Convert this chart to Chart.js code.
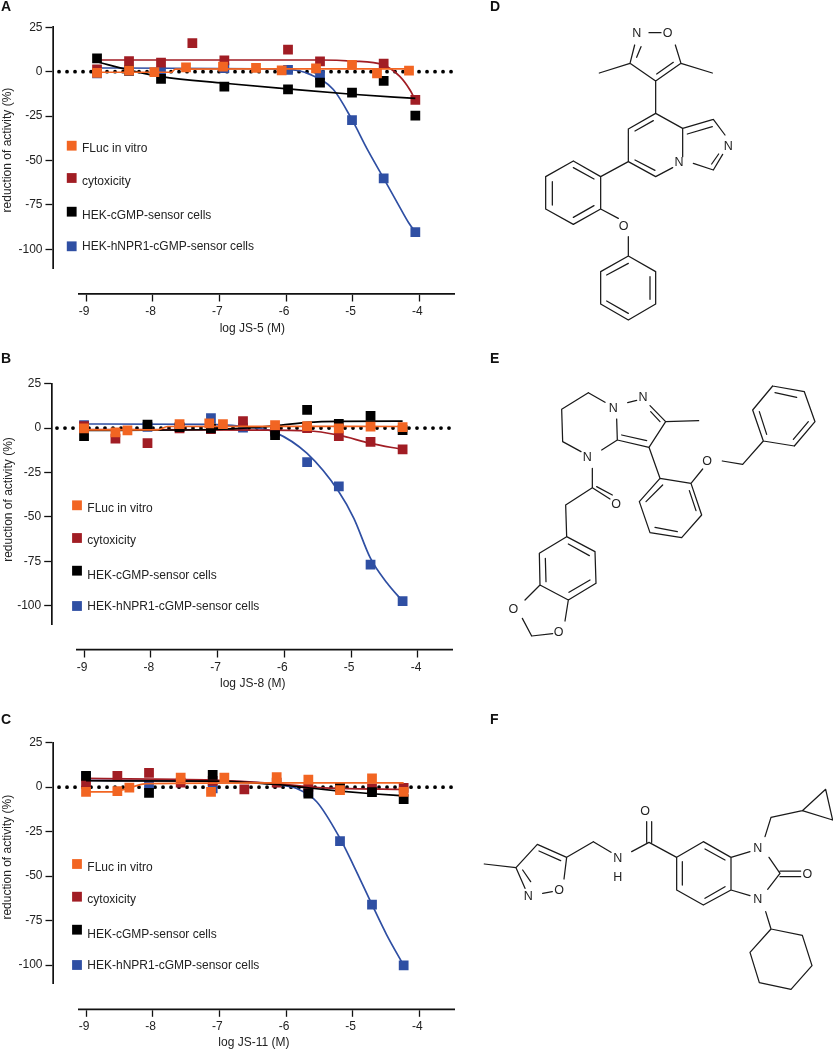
<!DOCTYPE html>
<html><head><meta charset="utf-8">
<script src="https://cdn.jsdelivr.net/npm/chart.js@4"></script>
<style>
html,body{margin:0;padding:0;background:#fff;width:833px;height:1050px;overflow:hidden}
canvas{position:absolute;display:block}
.pl{position:absolute;font:bold 14px "Liberation Sans",Arial,sans-serif;color:#111;line-height:14px}
</style></head><body>
<canvas id="a" style="left:0;top:0"></canvas>
<canvas id="b" style="left:0;top:345px"></canvas>
<canvas id="c" style="left:0;top:705px"></canvas>
<canvas id="d" style="left:480px;top:0"></canvas>
<canvas id="e" style="left:480px;top:345px"></canvas>
<canvas id="f" style="left:470px;top:700px"></canvas>
<div class="pl" style="left:1px;top:-1px">A</div>
<div class="pl" style="left:1px;top:351px">B</div>
<div class="pl" style="left:1px;top:712px">C</div>
<div class="pl" style="left:490px;top:-1px">D</div>
<div class="pl" style="left:490px;top:351px">E</div>
<div class="pl" style="left:490px;top:712px">F</div>
<script>
// ---------- shared labels ----------
const seriesNames = ['FLuc in vitro','cytoxicity','HEK-cGMP-sensor cells','HEK-hNPR1-cGMP-sensor cells'];
const seriesColors = ['#F26522','#A11D24','#000000','#2F4FA3'];
const yTickValues = [25,0,-25,-50,-75,-100];
const xTickValues = [-9,-8,-7,-6,-5,-4];

// ---------- panel A: log JS-5 ----------
const aFlucX = [-8.835,-8.355,-7.975,-7.5,-6.945,-6.45,-6.065,-5.55,-5.01,-4.635,-4.155];
const aFlucY = [-0.6,0.6,-0.2,2.4,2.8,2.1,0.7,1.9,3.9,-0.9,0.6];
const aCytoX = [-8.835,-8.355,-7.875,-7.405,-6.925,-5.97,-5.49,-4.535,-4.06];
const aCytoY = [1.3,6,5.1,16.1,6.4,12.5,5.8,4.5,-15.9];
const aHekX = [-8.835,-8.355,-7.875,-6.925,-5.97,-5.49,-5.01,-4.535,-4.06];
const aHekY = [7.5,0.6,-4.1,-8.4,-9.9,-6.2,-11.8,-5.2,-24.7];
const aNprX = [-8.835,-8.355,-7.875,-6.925,-5.97,-5.49,-5.01,-4.535,-4.06];
const aNprY = [-1,0.5,0,2,1,-1.9,-27.2,-60,-90.3];
const aFlucFitX = [-8.835,-7.72,-7.66,-6,-4.155];
const aFlucFitY = [-0.3,-0.3,1.5,1.6,1.6];
const aCytoFitX = [-8.835,-6,-5.49,-5.01,-4.535,-4.29,-4.14,-4.06];
const aCytoFitY = [6.6,6.6,6.6,6.0,3.7,-2.8,-10.3,-15.9];
const aHekFitX = [-8.835,-8.355,-7.875,-6.925,-5.97,-5.01,-4.06];
const aHekFitY = [5.6,0.9,-2.8,-6.5,-9.7,-12.7,-15];
const aNprFitX = [-8.835,-5.97,-5.64,-5.29,-5.01,-4.79,-4.535,-4.29,-4.16,-4.06];
const aNprFitY = [2.1,1.3,-1.5,-10,-27,-43,-60,-76.5,-85,-90.3];

// ---------- panel B: log JS-8 ----------
const bFlucX = [-9,-8.53,-8.35,-7.57,-7.125,-6.92,-6.14,-5.66,-5.185,-4.71,-4.23];
const bFlucY = [-0.2,-2.4,-1.3,2.3,2.6,2.3,1.7,1.1,-0.2,0.8,0.6];
const bCytoX = [-9,-8.53,-8.05,-7.57,-7.1,-6.62,-6.14,-5.66,-5.185,-4.71,-4.23];
const bCytoY = [1.1,-6,-8.4,-0.2,-0.6,3.9,-1,0,-4.5,-7.7,-12];
const bHekX = [-9,-8.05,-7.57,-7.1,-6.14,-5.66,-5.185,-4.71,-4.23];
const bHekY = [-4.5,1.9,0.5,-0.2,-3.9,10.3,2.4,6.9,-1.1];
const bNprX = [-9,-8.05,-7.1,-6.62,-6.14,-5.66,-5.185,-4.71,-4.23];
const bNprY = [1.7,0.7,5.6,0.2,-2,-19.1,-32.8,-76.9,-97.5];
const bFlucFitX = [-9,-7.9,-7.75,-6,-4.23];
const bFlucFitY = [-1,-1,0.9,1,0.9];
const bCytoFitX = [-9,-6.4,-5.66,-5.185,-4.71,-4.23];
const bCytoFitY = [-0.8,-1.1,-1.5,-4,-8.6,-12];
const bHekFitX = [-9,-7.1,-6.14,-5.66,-5.185,-4.23];
const bHekFitY = [-1.3,-0.8,1.3,3.2,3.8,3.9];
const bNprFitX = [-9,-7.1,-6.46,-6.14,-5.66,-5.185,-4.96,-4.71,-4.46,-4.23];
const bNprFitY = [2.3,2.1,0.2,-2.4,-14.3,-35.8,-50.8,-73.4,-87.4,-97.5];

// ---------- panel C: log JS-11 ----------
const cFlucX = [-9,-8.53,-8.35,-7.58,-7.125,-6.925,-6.14,-5.665,-5.19,-4.71,-4.235];
const cFlucY = [-2.6,-2.2,-0.2,5.4,-2.6,5.4,5.6,4.3,-1.7,4.9,-2.6];
const cCytoX = [-9,-8.53,-8.055,-7.58,-7.1,-6.625,-6.14,-5.665,-5.19,-4.71,-4.235];
const cCytoY = [2,6.4,8.1,2.6,3.6,-1.3,2.6,0.2,-0.4,-0.7,-0.4];
const cHekX = [-9,-8.055,-7.1,-5.665,-5.19,-4.71,-4.235];
const cHekY = [6.4,-3.2,6.9,-3.6,0,-2.8,-6.7];
const cNprX = [-9,-8.055,-7.1,-5.665,-5.19,-4.71,-4.235];
const cNprY = [6,1.1,-0.7,-2.6,-30.3,-66.1,-100.2];
const cFlucFitX = [-9,-8.6,-8.4,-8.09,-6,-4.235];
const cFlucFitY = [-2.6,-2.6,-1,2,2.4,2.4];
const cCytoFitX = [-9,-7.1,-6.14,-5.665,-5.19,-4.235];
const cCytoFitY = [4.9,4,2,0.2,-0.7,-1.3];
const cHekFitX = [-9,-7.1,-6.14,-5.665,-5.19,-4.71,-4.235];
const cHekFitY = [3.6,3.4,1.5,-0.4,-2.2,-3.7,-4.9];
const cNprFitX = [-9,-7.1,-6.625,-6.14,-5.84,-5.54,-5.19,-4.99,-4.71,-4.49,-4.235];
const cNprFitY = [3.8,3.7,3,1.5,-0.7,-8.2,-28.8,-43.8,-66,-83,-100.2];

// ---------- chemical structures: bonds and atom labels, in structure units ----------
const bondsD = [[507,98,543,98],[586,135,603,190],[603,190,527,243],[580,187,530,222],[527,243,450,190],[450,190,464,135],[470,172,483,140],[450,190,358,219],[603,190,697,219],[527,243,527,340],
[527,340,445,387],[520,362,465,393],[445,387,445,485],[445,485,527,530],[465,480,525,511],[527,530,578,503],[608,470,608,385],[608,385,527,340],[608,385,700,358],[622,402,697,380],[700,358,735,405],[728,463,700,510],[716,462,695,492],[700,510,640,490],
[445,485,362,530],[362,530,280,483],[280,483,197,530],[197,530,197,627],[197,627,280,673],[280,673,362,627],[362,627,362,530],[342,537,280,503],[217,545,217,615],[280,652,342,617],[362,627,415,655],[445,710,445,768],
[445,768,527,815],[527,815,527,912],[527,912,445,960],[445,960,362,912],[362,912,362,815],[362,815,445,768],[510,830,510,898],[445,940,380,903],[380,825,445,790]];
const atomsD = [['N',470,100],['O',563,100],['N',745,437],['N',597,487],['O',431,677]];
const bondsE = [[325,143,375,172],[325,143,245,193],[245,193,248,290],[248,290,303,320],[337,370,337,428],[365,315,412,285],[412,285,410,222],[443,173,470,166],[510,182,557,230],[512,200,540,230],[557,230,656,227],[557,230,507,307],[507,307,412,285],[500,287,425,270],[507,307,540,400],
[540,400,633,415],[633,415,665,510],[665,510,605,578],[605,578,510,563],[510,563,478,470],[478,470,540,400],[548,420,498,470],[628,437,648,497],[592,560,525,547],[633,415,668,372],[727,348,788,358],[788,358,850,288],
[850,288,818,195],[818,195,878,123],[878,123,973,140],[973,140,1005,230],[1005,230,943,303],[943,303,850,288],[838,200,860,268],[885,143,950,157],[985,230,940,283],
[337,428,390,462],[350,425,397,450],[337,428,257,480],[257,480,260,575],[260,575,345,620],[345,620,348,715],[348,715,265,765],[265,765,180,720],[180,720,178,625],[178,625,260,575],[265,597,328,632],[330,705,267,742],[198,710,196,640],[180,720,135,765],[265,765,255,828],[127,820,155,873],[155,873,218,866]];
const atomsE = [['N',400,190],['N',489,157],['N',322,337],['O',408,477],['O',681,347],['O',100,791],['O',236,862]];
const bondsF = [[43,492,138,503],[138,503,202,433],[202,433,290,472],[207,453,272,482],[290,472,282,537],[218,580,247,575],[138,503,165,565],[158,510,182,545],[290,472,370,425],[370,425,423,457],[485,455,537,427],[530,427,530,365],[545,427,545,365],[537,427,620,472],
[620,472,700,425],[700,425,783,472],[783,472,783,570],[783,570,700,615],[700,615,620,570],[620,570,620,472],[705,447,765,480],[637,485,637,555],[705,595,765,560],[783,472,840,455],[783,570,840,587],[897,472,930,520],[893,568,930,520],[930,513,992,513],[930,530,992,530],
[885,410,903,352],[903,352,997,332],[997,332,1067,268],[1067,268,1088,360],[1088,360,997,332],[887,635,903,687],[903,687,997,706],[997,706,1026,797],[1026,797,963,868],[963,868,868,848],[868,848,840,757],[840,757,903,687]];
const atomsF = [['O',525,333],['N',443,475],['H',443,532],['N',175,588],['O',267,570],['N',863,445],['N',863,598],['O',1012,522]];

// ---------- helpers ----------
const FONT = '"Liberation Sans", Arial, sans-serif';
const INK = '#222';
const zip = (xs, ys) => xs.map((x, i) => ({x, y: ys[i]}));
const proto = Chart.Scale.prototype;
function shift(s, dx, dy, tdx, tdy) {
  s.draw = area => { const c = s.ctx; c.save(); c.translate(dx, dy); proto.draw.call(s, area); c.restore(); };
  s.drawTitle = () => { const c = s.ctx; c.save(); c.translate(tdx, tdy); proto.drawTitle.call(s); c.restore(); };
}
const legendPlugin = {
  id: 'sideLegend',
  afterDatasetsDraw(chart, _a, o) {
    const c = chart.ctx; c.save();
    c.font = '12px ' + FONT; c.textBaseline = 'middle'; c.textAlign = 'left';
    seriesNames.forEach((name, i) => {
      c.fillStyle = seriesColors[i];
      c.fillRect(o.markX - 4.9, o.markY[i] - 4.9, 9.8, 9.8);
      c.fillStyle = INK;
      c.fillText(name, o.textX, o.textY[i]);
    });
    c.restore();
  }
};
function doseChart(id, g, xName, pts, fits) {
  const cv = document.getElementById(id); cv.width = 470; cv.height = g.h;
  const ds = [];
  // Chart.js paints dataset 0 last, so the list runs from the top layer down.
  [0,2,1,3].forEach(i => {
    ds.push({label:seriesNames[i], data:pts[i], showLine:false, pointStyle:'rect', pointRadius:6.9, backgroundColor:seriesColors[i], borderWidth:0});
    ds.push({label:seriesNames[i]+' fit', data:fits[i], showLine:true, pointRadius:0, borderColor:seriesColors[i], borderWidth:1.7, cubicInterpolationMode:'monotone'});
  });
  ds.push({label:'zero', data:[{x:-9.405,y:0},{x:-3.48,y:0}], showLine:true, pointRadius:0, borderColor:'#000', borderWidth:3.8, borderDash:[0,8], borderCapStyle:'round', clip:false});
  const xH = g.xTitleY + 7.2 - g.xOff - g.bottom;
  new Chart(cv, {
    type:'scatter',
    data:{datasets:ds},
    plugins:[legendPlugin],
    options:{
      responsive:false, animation:false, events:[], devicePixelRatio:1,
      layout:{padding:{left:0, top:g.top, right:470-g.right, bottom:g.h-g.bottom-xH}},
      plugins:{legend:{display:false}, tooltip:{enabled:false}, sideLegend:g.legend},
      scales:{
        x:{type:'linear', min:-9.11, max:-3.48,
          afterBuildTicks:s=>{s.ticks=xTickValues.map(v=>({value:v}));},
          afterFit:s=>{s.height=xH; shift(s,0,g.xOff,g.xTitleDx,0);},
          grid:{drawOnChartArea:false, tickLength:7.5, tickColor:'#111', tickWidth:1.3},
          border:{display:true,color:'#111',width:1.7},
          ticks:{font:{family:FONT,size:12}, color:INK, padding:2.5, maxRotation:0, labelOffset:-2, autoSkip:false, callback:v=>String(v)},
          title:{display:true,text:xName,font:{family:FONT,size:12},color:INK,padding:0}},
        y:{type:'linear', min:-110.5, max:25,
          afterBuildTicks:s=>{s.ticks=yTickValues.map(v=>({value:v}));},
          afterFit:s=>{s.width=g.left; shift(s,-g.yOff,0,26,g.yTitleDy);},
          grid:{drawOnChartArea:false, tickLength:7.5, tickColor:'#111', tickWidth:1.3},
          border:{display:true,color:'#111',width:1.7},
          ticks:{font:{family:FONT,size:12}, color:INK, padding:3, autoSkip:false, callback:v=>String(v)},
          title:{display:true,text:'reduction of activity (%)',font:{family:FONT,size:12},color:INK,padding:0}}
      }
    }
  });
}
const atomPlugin = {
  id:'atoms',
  afterDatasetsDraw(chart,_a,o){
    const c=chart.ctx,{x,y}=chart.scales; c.save();
    c.font='12.5px '+FONT; c.fillStyle=INK; c.textAlign='center'; c.textBaseline='middle';
    o.list.forEach(([t,ax,ay])=>c.fillText(t,x.getPixelForValue(ax),y.getPixelForValue(ay)+0.5));
    c.restore();
  }
};
function structure(id,w,h,bonds,atoms){
  const cv=document.getElementById(id); cv.width=w; cv.height=h;
  const pts=[];
  bonds.forEach(([a,b,c,d])=>{pts.push({x:a,y:b},{x:c,y:d},{x:null,y:null});});
  new Chart(cv,{type:'scatter',
    data:{datasets:[{label:'bonds',data:pts,showLine:true,pointRadius:0,borderColor:'#1a1a1a',borderWidth:1.25,borderCapStyle:'round',borderJoinStyle:'round',clip:false}]},
    plugins:[atomPlugin],
    options:{responsive:false,animation:false,events:[],devicePixelRatio:1,layout:{padding:0},
      plugins:{legend:{display:false},tooltip:{enabled:false},atoms:{list:atoms}},
      scales:{x:{display:false,min:0,max:w*3},y:{display:false,min:0,max:h*3,reverse:true}}}});
}

// ---------- draw ----------
doseChart('a',{h:340,top:27.3,bottom:268,left:78.7,right:454,xOff:26,yOff:25.7,xTitleY:329,xTitleDx:-14,yTitleDy:2.4,
  legend:{markX:71.7,markY:[145.7,178,211.7,246.3],textX:82,textY:[149,181.7,216,247]}},'log JS-5 (M)',
  [zip(aFlucX,aFlucY),zip(aCytoX,aCytoY),zip(aHekX,aHekY),zip(aNprX,aNprY)],
  [zip(aFlucFitX,aFlucFitY),zip(aCytoFitX,aCytoFitY),zip(aHekFitX,aHekFitY),zip(aNprFitX,aNprFitY)]);
doseChart('b',{h:345,top:38.7,bottom:279.3,left:76.7,right:452.7,xOff:25.7,yOff:25,xTitleY:339,xTitleDx:-12,yTitleDy:-4.5,
  legend:{markX:77,markY:[160.3,193,225.7,261],textX:87.3,textY:[163.7,196,230.7,261.7]}},'log JS-8 (M)',
  [zip(bFlucX,bFlucY),zip(bCytoX,bCytoY),zip(bHekX,bHekY),zip(bNprX,bNprY)],
  [zip(bFlucFitX,bFlucFitY),zip(bCytoFitX,bCytoFitY),zip(bHekFitX,bHekFitY),zip(bNprFitX,bNprFitY)]);
doseChart('c',{h:345,top:37.7,bottom:278.7,left:78.7,right:454,xOff:25.6,yOff:25.7,xTitleY:338,xTitleDx:-12.5,yTitleDy:-6,
  legend:{markX:77,markY:[159,191.7,224.7,260],textX:87.3,textY:[162.7,195,229.3,260.3]}},'log JS-11 (M)',
  [zip(cFlucX,cFlucY),zip(cCytoX,cCytoY),zip(cHekX,cHekY),zip(cNprX,cNprY)],
  [zip(cFlucFitX,cFlucFitY),zip(cCytoFitX,cCytoFitY),zip(cHekFitX,cHekFitY),zip(cNprFitX,cNprFitY)]);
structure('d',300,340,bondsD,atomsD);
structure('e',353,320,bondsE,atomsE);
structure('f',363,310,bondsF,atomsF);
</script>
</body></html>
